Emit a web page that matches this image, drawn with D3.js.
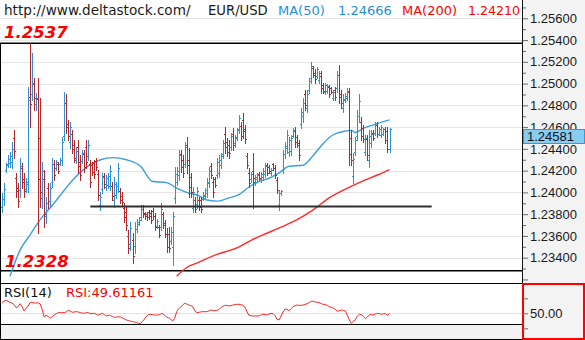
<!DOCTYPE html>
<html><head><meta charset="utf-8">
<script src="https://cdn.jsdelivr.net/npm/d3@7"></script>
<style>html,body{margin:0;padding:0;background:#fff;}svg{display:block;}</style>
</head><body>
<svg id="chart" width="585" height="340"></svg>
<script>
// EUR/USD bars (oldest first)
const highs = [1.2399,1.2409,1.2427,1.2434,1.2437,1.2446,1.2457,1.2418,1.2409,1.2432,
1.2427,1.2418,1.2413,1.2497,1.2537,1.2528,1.2505,1.2491,1.2505,1.2487,
1.2428,1.2421,1.2396,1.2409,1.2409,1.2432,1.2430,1.2430,1.2428,1.2432,
1.2451,1.2492,1.2490,1.2467,1.2465,1.2457,1.2448,1.2442,1.2448,1.2434,
1.2439,1.2439,1.2448,1.2448,1.2430,1.2428,1.2430,1.2432,1.2421,1.2400,
1.2418,1.2418,1.2416,1.2418,1.2425,1.2410,1.2414,1.2410,1.2427,1.2404,
1.2400,1.2390,1.2387,1.2365,1.2373,1.2363,1.2373,1.2376,1.2377,1.2388,
1.2388,1.2382,1.2382,1.2384,1.2384,1.2386,1.2381,1.2376,1.2370,1.2390,
1.2382,1.2375,1.2367,1.2368,1.2368,1.2382,1.2423,1.2423,1.2439,1.2439,
1.2434,1.2446,1.2451,1.2441,1.2418,1.2405,1.2396,1.2405,1.2396,1.2396,
1.2400,1.2404,1.2413,1.2423,1.2427,1.2414,1.2414,1.2432,1.2434,1.2436,
1.2448,1.2460,1.2450,1.2448,1.2455,1.2459,1.2453,1.2459,1.2471,1.2465,
1.2473,1.2462,1.2436,1.2422,1.2419,1.2436,1.2416,1.2418,1.2419,1.2419,
1.2422,1.2427,1.2427,1.2425,1.2422,1.2427,1.2425,1.2414,1.2402,1.2402,
1.2439,1.2446,1.2457,1.2451,1.2453,1.2459,1.2460,1.2453,1.2448,1.2478,
1.2487,1.2494,1.2494,1.2505,1.2520,1.2516,1.2513,1.2515,1.2512,1.2512,
1.2501,1.2501,1.2500,1.2499,1.2497,1.2494,1.2497,1.2512,1.2517,1.2494,
1.2490,1.2491,1.2496,1.2496,1.2457,1.2436,1.2451,1.2476,1.2490,1.2469,
1.2462,1.2453,1.2453,1.2457,1.2457,1.2457,1.2465,1.2465,1.2460,1.2462,
1.2459,1.2460,1.2460,1.2459];
const lows = [1.2382,1.2388,1.2419,1.2423,1.2423,1.2422,1.2432,1.2396,1.2387,1.2396,
1.2404,1.2396,1.2400,1.2400,1.2460,1.2485,1.2476,1.2476,1.2363,1.2387,
1.2386,1.2368,1.2372,1.2386,1.2387,1.2405,1.2411,1.2421,1.2418,1.2425,
1.2425,1.2448,1.2455,1.2448,1.2441,1.2436,1.2428,1.2427,1.2418,1.2411,
1.2427,1.2419,1.2422,1.2430,1.2405,1.2416,1.2413,1.2421,1.2393,1.2384,
1.2399,1.2404,1.2402,1.2404,1.2402,1.2393,1.2387,1.2395,1.2400,1.2390,
1.2388,1.2373,1.2365,1.2344,1.2347,1.2335,1.2344,1.2364,1.2370,1.2375,
1.2377,1.2376,1.2375,1.2376,1.2372,1.2376,1.2365,1.2367,1.2359,1.2365,
1.2367,1.2359,1.2345,1.2345,1.2353,1.2333,1.2390,1.2407,1.2411,1.2419,
1.2414,1.2423,1.2418,1.2396,1.2396,1.2382,1.2382,1.2386,1.2384,1.2382,
1.2393,1.2395,1.2396,1.2405,1.2413,1.2396,1.2405,1.2413,1.2414,1.2422,
1.2432,1.2436,1.2433,1.2432,1.2439,1.2439,1.2442,1.2448,1.2455,1.2448,
1.2450,1.2445,1.2422,1.2405,1.2410,1.2386,1.2407,1.2410,1.2411,1.2410,
1.2411,1.2414,1.2416,1.2418,1.2416,1.2421,1.2413,1.2399,1.2384,1.2398,
1.2418,1.2432,1.2436,1.2433,1.2434,1.2451,1.2442,1.2442,1.2430,1.2459,
1.2465,1.2476,1.2474,1.2491,1.2501,1.2506,1.2501,1.2505,1.2501,1.2491,
1.2491,1.2490,1.2491,1.2488,1.2491,1.2485,1.2485,1.2492,1.2482,1.2478,
1.2474,1.2483,1.2485,1.2425,1.2425,1.2409,1.2434,1.2448,1.2465,1.2448,
1.2446,1.2434,1.2430,1.2423,1.2442,1.2448,1.2453,1.2451,1.2453,1.2451,
1.2453,1.2445,1.2437,1.2437];
const opens = [1.2387,1.2394,1.2421,1.2426,1.2427,1.2428,1.2450,1.2413,1.2404,1.2402,
1.2422,1.2412,1.2403,1.2408,1.2488,1.2490,1.2500,1.2481,1.2486,1.2450,
1.2395,1.2412,1.2378,1.2404,1.2392,1.2410,1.2426,1.2422,1.2426,1.2426,
1.2430,1.2452,1.2482,1.2463,1.2446,1.2454,1.2444,1.2430,1.2442,1.2428,
1.2429,1.2435,1.2442,1.2433,1.2426,1.2425,1.2427,1.2429,1.2417,1.2388,
1.2403,1.2415,1.2405,1.2407,1.2406,1.2406,1.2393,1.2398,1.2406,1.2401,
1.2397,1.2386,1.2382,1.2360,1.2353,1.2356,1.2351,1.2366,1.2371,1.2377,
1.2385,1.2381,1.2380,1.2382,1.2381,1.2383,1.2378,1.2369,1.2368,1.2368,
1.2380,1.2372,1.2362,1.2362,1.2355,1.2350,1.2395,1.2410,1.2416,1.2435,
1.2430,1.2426,1.2444,1.2430,1.2414,1.2386,1.2393,1.2389,1.2393,1.2393,
1.2394,1.2397,1.2399,1.2409,1.2424,1.2410,1.2412,1.2416,1.2418,1.2425,
1.2435,1.2454,1.2446,1.2444,1.2442,1.2454,1.2445,1.2450,1.2458,1.2461,
1.2467,1.2458,1.2433,1.2418,1.2412,1.2420,1.2410,1.2412,1.2417,1.2412,
1.2414,1.2417,1.2425,1.2423,1.2418,1.2426,1.2422,1.2411,1.2388,1.2399,
1.2421,1.2435,1.2441,1.2437,1.2438,1.2452,1.2456,1.2451,1.2445,1.2463,
1.2470,1.2490,1.2478,1.2494,1.2505,1.2514,1.2510,1.2507,1.2503,1.2507,
1.2499,1.2492,1.2493,1.2497,1.2496,1.2487,1.2494,1.2496,1.2508,1.2490,
1.2478,1.2485,1.2487,1.2492,1.2450,1.2415,1.2437,1.2452,1.2470,1.2465,
1.2459,1.2437,1.2449,1.2430,1.2445,1.2455,1.2455,1.2462,1.2454,1.2453,
1.2454,1.2458,1.2456,1.2440];
const closes = [1.2394,1.2403,1.2425,1.2431,1.2433,1.2440,1.2438,1.2401,1.2392,1.2424,
1.2410,1.2401,1.2410,1.2485,1.2481,1.2501,1.2487,1.2487,1.2412,1.2400,
1.2420,1.2380,1.2390,1.2392,1.2404,1.2426,1.2416,1.2428,1.2420,1.2430,
1.2446,1.2482,1.2460,1.2452,1.2460,1.2440,1.2432,1.2438,1.2424,1.2416,
1.2436,1.2423,1.2428,1.2444,1.2410,1.2419,1.2417,1.2423,1.2398,1.2396,
1.2414,1.2408,1.2413,1.2415,1.2420,1.2397,1.2408,1.2406,1.2422,1.2393,
1.2391,1.2377,1.2370,1.2349,1.2367,1.2342,1.2366,1.2373,1.2375,1.2385,
1.2380,1.2378,1.2377,1.2378,1.2375,1.2378,1.2368,1.2374,1.2361,1.2385,
1.2370,1.2362,1.2350,1.2349,1.2364,1.2378,1.2417,1.2420,1.2434,1.2423,
1.2418,1.2442,1.2425,1.2405,1.2400,1.2400,1.2385,1.2401,1.2387,1.2385,
1.2398,1.2402,1.2410,1.2420,1.2416,1.2400,1.2407,1.2428,1.2430,1.2433,
1.2445,1.2442,1.2437,1.2436,1.2452,1.2444,1.2451,1.2457,1.2468,1.2452,
1.2456,1.2449,1.2425,1.2409,1.2417,1.2413,1.2414,1.2416,1.2413,1.2417,
1.2420,1.2424,1.2418,1.2420,1.2421,1.2422,1.2416,1.2402,1.2399,1.2401,
1.2435,1.2443,1.2453,1.2448,1.2450,1.2457,1.2446,1.2444,1.2434,1.2474,
1.2482,1.2480,1.2490,1.2502,1.2516,1.2508,1.2504,1.2513,1.2510,1.2496,
1.2493,1.2499,1.2498,1.2490,1.2492,1.2492,1.2488,1.2508,1.2488,1.2482,
1.2486,1.2489,1.2493,1.2435,1.2430,1.2431,1.2448,1.2470,1.2484,1.2452,
1.2449,1.2450,1.2434,1.2452,1.2454,1.2450,1.2462,1.2454,1.2458,1.2460,
1.2458,1.2448,1.2440,1.24581];

// Moving averages, read at the listed bar numbers
const ma50Bars = [4,9,14,19,25,31,35,42,49,55,62,69,75,82,87,92,98,102,107,113,118,123,128,133,138,143,150,155,160,165,170,174,176,180,185,190,193];
const ma50 = [1.2323,1.2347,1.2361,1.2375,1.2388,1.2402,1.2411,1.2423,1.2430,1.2432,1.2430,1.2424,1.2410,1.2409,1.2404,1.2400,1.2397,1.2393,1.2392,1.2395,1.2398,1.2405,1.2410,1.2413,1.2418,1.2424,1.2425,1.2434,1.2445,1.2453,1.2456,1.2457,1.2455,1.2459,1.2462,1.2465,1.24666];
const ma200Bars = [87,92,97,107,117,124,130,139,146,155,163,170,179,187,193];
const ma200 = [1.2323,1.2331,1.2335,1.2343,1.2349,1.2356,1.2361,1.2368,1.2374,1.2384,1.2395,1.2402,1.2410,1.2416,1.24210];

// RSI(14), one value per bar
const rsi = [64.4,66.0,67.7,66.0,64.5,63.7,61.5,57.5,58.8,62.8,
59.0,53.3,56.5,59.7,64.5,64.7,63.7,63.7,64.0,62.5,
55.3,45.5,47.3,46.0,43.3,45.5,47.7,49.5,50.9,50.9,
50.9,50.9,51.8,54.0,53.0,51.3,51.8,52.2,51.8,50.9,
50.4,50.0,50.9,50.9,49.5,49.5,50.0,48.6,47.7,48.6,
50.0,48.2,46.4,47.3,47.3,45.5,44.6,45.0,45.5,45.0,
43.7,42.4,41.1,40.2,39.7,38.8,38.4,37.5,36.7,36.2,
39.3,42.4,46.4,48.2,48.6,48.2,47.7,47.7,47.7,49.1,
49.5,47.3,45.0,44.2,42.4,39.7,43.3,52.2,56.2,58.4,
61.1,63.3,62.4,61.1,60.2,58.8,53.5,50.9,51.3,51.8,
52.2,52.2,52.2,53.1,54.4,54.0,53.5,54.0,54.9,57.6,
59.3,60.6,60.6,59.7,60.2,61.1,61.5,62.0,62.0,61.5,
60.6,58.4,52.2,47.3,46.8,46.4,46.4,46.4,46.4,47.7,
49.1,48.2,47.7,49.1,50.0,49.5,46.8,41.9,41.1,46.4,
51.8,55.8,55.3,53.5,56.2,58.8,60.2,61.1,60.6,60.6,
61.1,62.0,62.8,64.2,66.0,66.0,65.1,64.7,64.2,62.8,
62.0,61.5,60.6,58.8,58.0,57.1,55.3,52.7,53.5,54.4,
54.0,53.1,47.3,41.1,36.7,39.3,41.5,46.4,48.6,48.2,
46.0,42.8,45.0,48.2,48.2,47.7,49.1,50.0,49.5,48.6,
49.5,49.5,47.3,49.61161];

const priceTicks = [1.234,1.236,1.238,1.240,1.242,1.244,1.246,1.248,1.250,1.252,1.254,1.256];
const unlabelledTicks = [1.232];
const minorTicks = [1.233,1.235,1.237,1.239,1.241,1.243,1.245,1.247,1.249,1.251,1.253,1.255,1.257];
const rangeHigh = 1.2537, rangeLow = 1.2328;
const supportLevel = 1.2387, supportFrom = 44, supportTo = 214;
const lastPrice = 1.24581, lastMA50 = 1.24666, lastMA200 = 1.24210, lastRSI = 49.61161;
const rsiTicks = [50], rsiMinor = [30, 70];

const W = 585, H = 340, axisX = 522, mainBottom = 283, rsiBottom = 324;
const UP = "#2b93d1", DOWN = "#b3262a", RED = "#ff0000", BLUE = "#1f8fd8";
const SANS = "'DejaVu Sans', Verdana, sans-serif";
const AXISF = "'Liberation Sans', Arial, sans-serif";

const svg = d3.select("#chart");
const x = d3.scaleLinear().domain([0, highs.length - 1]).range([2, 389.5]);
const y = d3.scaleLinear().domain([1.234, 1.256]).range([257.7, 18.3]);
const ry = d3.scaleLinear().domain([30, 70]).range([328.3, 298.3]);
const px = i => Math.round(x(i)) + 0.5;
const py = v => Math.round(y(v)) + 0.5;

// backgrounds
svg.append("rect").attr("width", W).attr("height", H).attr("fill", "#fff");
svg.append("rect").attr("x", axisX).attr("y", 0).attr("width", W - axisX).attr("height", mainBottom).attr("fill", "#f3f3f3");
svg.append("rect").attr("x", 0).attr("y", rsiBottom).attr("width", axisX).attr("height", H - rsiBottom).attr("fill", "#f2f2f2");

const defs = svg.append("defs");
defs.append("clipPath").attr("id", "mainClip").append("rect")
  .attr("x", 0).attr("y", 0).attr("width", axisX).attr("height", mainBottom);
defs.append("clipPath").attr("id", "rsiClip").append("rect")
  .attr("x", 0).attr("y", mainBottom + 1).attr("width", axisX).attr("height", rsiBottom - mainBottom - 1);

// grid
const grid = svg.append("g").attr("shape-rendering", "crispEdges");
grid.selectAll("line").data(priceTicks).join("line")
  .attr("x1", 0).attr("x2", axisX).attr("y1", d => py(d)).attr("y2", d => py(d))
  .attr("stroke", "#e6e6e6");

const main = svg.append("g").attr("clip-path", "url(#mainClip)");

// range high / low lines
main.selectAll("line.range").data([rangeHigh, rangeLow]).join("line").attr("class", "range")
  .attr("x1", 0).attr("x2", axisX).attr("y1", d => y(d)).attr("y2", d => y(d))
  .attr("stroke", "#000").attr("stroke-width", 1.5);

// moving averages
const maLine = d3.line().x(d => x(d[0])).y(d => y(d[1])).curve(d3.curveMonotoneX);
main.append("path").attr("d", maLine(d3.zip(ma200Bars, ma200)))
  .attr("fill", "none").attr("stroke", "#ff2b2b").attr("stroke-width", 1.4);
main.append("path").attr("d", maLine(d3.zip(ma50Bars, ma50)))
  .attr("fill", "none").attr("stroke", "#3a9fdc").attr("stroke-width", 1.4);

// OHLC bars
const bars = main.append("g").attr("shape-rendering", "crispEdges").attr("stroke-width", 1).attr("fill", "none");
bars.selectAll("path").data(highs.map((h, i) => i)).join("path")
  .attr("stroke", i => closes[i] >= opens[i] ? UP : DOWN)
  .attr("d", i => {
    const cx = px(i);
    return `M${cx},${py(highs[i]) - 0.5}V${py(lows[i]) + 0.5}` +
           `M${cx - 1.5},${py(opens[i])}H${cx}` +
           `M${cx},${py(closes[i])}H${cx + 1.5}`;
  });

// support line
main.append("line")
  .attr("x1", x(supportFrom)).attr("x2", x(supportTo))
  .attr("y1", y(supportLevel)).attr("y2", y(supportLevel))
  .attr("stroke", "#2e2e2e").attr("stroke-width", 2);

// range labels
const rangeFont = g => g.attr("font-family", SANS).attr("font-weight", "bold")
  .attr("font-style", "italic").attr("font-size", 16.5).attr("fill", RED);
svg.append("text").attr("x", 4).attr("y", 37.5).text(rangeHigh.toFixed(4)).call(rangeFont);
svg.append("text").attr("x", 5).attr("y", 267).text(rangeLow.toFixed(4)).call(rangeFont);

// price axis
const axisG = svg.append("g").attr("transform", `translate(${axisX},0)`);
axisG.append("g").call(d3.axisRight(y).tickValues(minorTicks).tickSize(4).tickFormat(""));
axisG.append("g").call(d3.axisRight(y).tickValues(unlabelledTicks).tickSize(6).tickFormat(""));
axisG.append("g").call(d3.axisRight(y).tickValues(priceTicks).tickSize(6).tickPadding(2).tickFormat(d3.format(".5f")));
axisG.selectAll(".domain").remove();
axisG.selectAll("line").attr("stroke", "#6a6a6a");
axisG.selectAll("text").attr("font-family", AXISF).attr("font-size", 13).attr("fill", "#1a1a1a");
svg.append("line").attr("x1", axisX + 0.5).attr("x2", axisX + 0.5).attr("y1", 0).attr("y2", mainBottom)
  .attr("stroke", "#111").attr("shape-rendering", "crispEdges");

// last price tag
const tagY = Math.round(y(lastPrice)) + 0.5;
svg.append("rect").attr("x", axisX + 1.5).attr("y", tagY).attr("width", 61).attr("height", 14)
  .attr("fill", "#86cdef").attr("stroke", "#3a97d4").attr("shape-rendering", "crispEdges");
svg.append("text").attr("x", axisX + 5).attr("y", tagY + 11.5).text(lastPrice.toFixed(5))
  .attr("font-family", AXISF).attr("font-size", 13).attr("fill", "#111");

// header
const header = [
  {t: "http://www.deltastock.com/", x: 4, c: "#1a1a1a", s: 13.6},
  {t: "EUR/USD", x: 208, c: "#1a1a1a", s: 13.2},
  {t: "MA(50)", x: 278, c: BLUE, s: 13},
  {t: lastMA50.toFixed(5), x: 338, c: BLUE, s: 13},
  {t: "MA(200)", x: 402, c: RED, s: 13},
  {t: lastMA200.toFixed(5), x: 468, c: RED, s: 12.6}
];
svg.selectAll("text.hdr").data(header).join("text").attr("class", "hdr")
  .attr("x", d => d.x).attr("y", 15).text(d => d.t).attr("fill", d => d.c)
  .attr("font-family", SANS).attr("font-size", d => d.s);

// RSI panel
svg.append("line").attr("x1", 0).attr("x2", axisX).attr("y1", ry(50)).attr("y2", ry(50))
  .attr("stroke", "#e3e3e3").attr("shape-rendering", "crispEdges");
svg.append("path").attr("clip-path", "url(#rsiClip)")
  .attr("d", d3.line().x((d, i) => x(i)).y(d => ry(d))(rsi))
  .attr("fill", "none").attr("stroke", "#ff2424").attr("stroke-width", 1);
svg.append("text").attr("x", 4).attr("y", 297).text("RSI(14)")
  .attr("font-family", SANS).attr("font-size", 13).attr("fill", "#111");
svg.append("text").attr("x", 66).attr("y", 297).text("RSI:" + lastRSI.toFixed(5))
  .attr("font-family", SANS).attr("font-size", 13).attr("fill", RED);

// panel borders
const borders = svg.append("g").attr("stroke", "#000").attr("shape-rendering", "crispEdges");
[mainBottom + 0.5, rsiBottom + 0.5, H - 0.5].forEach(v =>
  borders.append("line").attr("x1", 0).attr("x2", axisX).attr("y1", v).attr("y2", v));
borders.append("line").attr("x1", 0.5).attr("x2", 0.5).attr("y1", y(rangeHigh)).attr("y2", H);

// RSI scale box
svg.append("rect").attr("x", axisX + 1).attr("y", mainBottom + 1).attr("width", W - axisX - 2).attr("height", H - mainBottom - 2)
  .attr("fill", "#f3f3f3").attr("stroke", "#ff0000").attr("stroke-width", 2);
const rAxis = svg.append("g").attr("transform", `translate(${axisX + 1},0)`);
rAxis.append("g").call(d3.axisRight(ry).tickValues(rsiMinor).tickSize(5).tickFormat(""));
rAxis.append("g").call(d3.axisRight(ry).tickValues(rsiTicks).tickSize(5).tickPadding(2).tickFormat(d3.format(".2f")));
rAxis.selectAll(".domain").remove();
rAxis.selectAll("line").attr("stroke", "#6a6a6a");
rAxis.selectAll("text").attr("font-family", AXISF).attr("font-size", 13).attr("fill", "#1a1a1a");
</script>
</body></html>
